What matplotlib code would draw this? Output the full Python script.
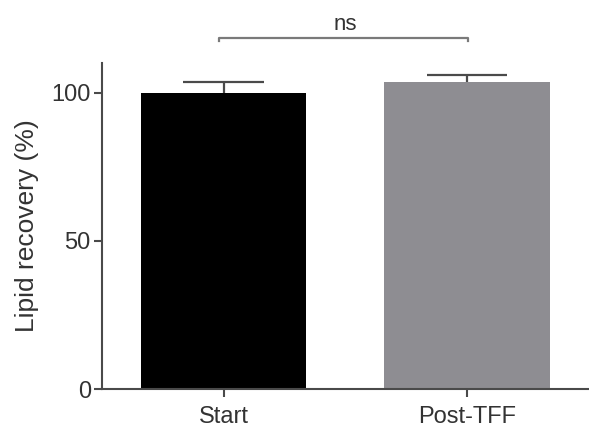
import numpy as np
import matplotlib
matplotlib.use("Agg")
import matplotlib.pyplot as plt

plt.rcParams['font.family'] = ['Liberation Sans', 'DejaVu Sans']

groups = ['Start', 'Post-TFF']
recovery = [100.0, 103.5]
err_up = [3.5, 2.5]
bar_colors = ['#000000', '#8e8d92']
sig_label = 'ns'

axis_col = '#4a4a4a'

fig = plt.figure(figsize=(5.89, 4.32), dpi=100)
ax = fig.add_axes([0.173, 0.0995, 0.827, 0.7545])

x = np.arange(len(groups))
rec = np.array(recovery)
eu = np.array(err_up)
ax.bar(x, rec, width=0.68, color=bar_colors, edgecolor='none', zorder=2)
# upper error bars only
ax.vlines(x, rec, rec + eu, color=axis_col, lw=1.6, zorder=3)
ax.hlines(rec + eu, x - 0.165, x + 0.165, color=axis_col, lw=1.6, zorder=3)

ax.set_xlim(-0.5, 1.5)
ax.set_ylim(0, 110)
ax.set_yticks([0, 50, 100])
ax.set_xticks(x)
ax.set_xticklabels(groups)
ax.set_ylabel('Lipid recovery (%)', fontsize=19, color='#333333', labelpad=9)

for s in ['top', 'right']:
    ax.spines[s].set_visible(False)
for s in ['left', 'bottom']:
    ax.spines[s].set_color(axis_col)
    ax.spines[s].set_linewidth(1.5)
ax.tick_params(axis='both', colors=axis_col, width=1.5, length=6,
               labelsize=17, labelcolor='#333333')
ax.tick_params(axis='y', pad=2)
ax.tick_params(axis='x', pad=6)

# significance bracket
top = 118.6
ax.plot([x[0] - 0.02, x[0] - 0.02, x[1] + 0.005, x[1] + 0.005],
        [top - 1.2, top, top, top - 1.2], color='#7a7a7a', lw=1.6, clip_on=False)
ax.text((x[0] + x[1]) / 2, top + 0.8, sig_label, ha='center', va='bottom',
        fontsize=16, color='#333333')

fig.savefig('out.png', dpi=100)
